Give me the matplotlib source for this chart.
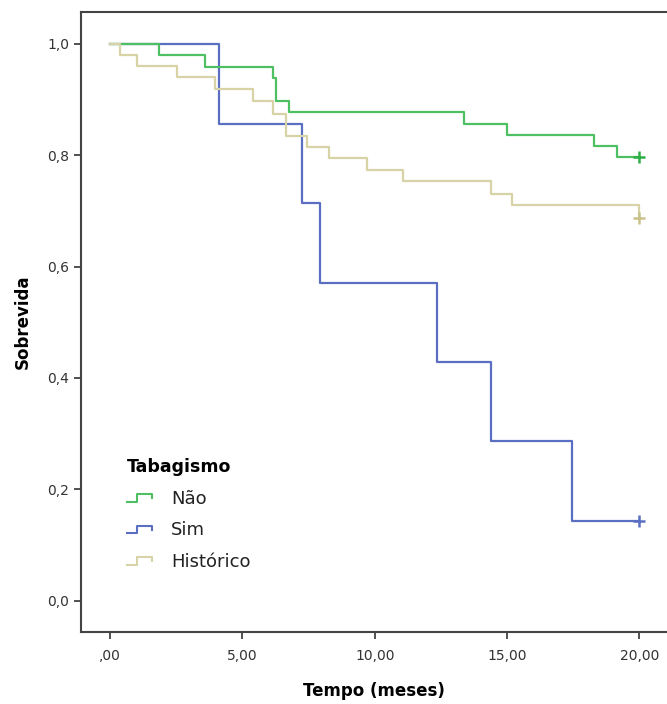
import matplotlib
matplotlib.use("Agg")
import matplotlib.pyplot as plt
from matplotlib.legend_handler import HandlerBase
from matplotlib.lines import Line2D

# Kaplan-Meier steps
nao_t = [0, 1.85, 3.58, 6.14, 6.29, 6.75, 13.36, 15.0, 18.3, 19.15, 20]
nao_s = [1.0, 0.980, 0.959, 0.939, 0.898, 0.878, 0.857, 0.837, 0.816, 0.796, 0.796]

sim_t = [0, 4.13, 7.25, 7.92, 12.35, 14.39, 17.45, 20]
sim_s = [1.0, 0.857, 0.714, 0.571, 0.429, 0.286, 0.143, 0.143]

hist_t = [0, 0.38, 1.03, 2.54, 3.97, 5.39, 6.14, 6.64, 7.43, 8.28, 9.72, 11.08, 14.39, 15.2, 20]
hist_s = [1.0, 0.980, 0.961, 0.940, 0.919, 0.898, 0.874, 0.835, 0.814, 0.795, 0.773, 0.753, 0.731, 0.710, 0.688]

labels = ["Não", "Sim", "Histórico"]
colors = ["#4fc062", "#5b6fc2", "#d8d3a6"]
censor_colors = ["#2fae45", "#5b6fc2", "#c9c28a"]

xticks = [0, 5, 10, 15, 20]
xticklabels = [",00", "5,00", "10,00", "15,00", "20,00"]
yticks = [0, 0.2, 0.4, 0.6, 0.8, 1.0]
yticklabels = ["0,0", "0,2", "0,4", "0,6", "0,8", "1,0"]


class StepHandler(HandlerBase):
    # little step icon like the SPSS legend
    def create_artists(self, legend, orig_handle, xdescent, ydescent,
                       width, height, fontsize, trans):
        w, h = width, height
        xs = [0, 0.35 * w, 0.35 * w, 0.85 * w, 0.85 * w]
        ys = [0.15 * h, 0.15 * h, 0.75 * h, 0.75 * h, 0.45 * h]
        ln = Line2D([x - xdescent for x in xs], [y - ydescent for y in ys],
                    color=orig_handle.get_color(), lw=1.5, transform=trans)
        return [ln]


fig = plt.figure(figsize=(6.67, 7.04), dpi=100)
ax = fig.add_axes([0.1214, 0.1018, 0.8786, 0.8813])

series = [(nao_t, nao_s), (sim_t, sim_s), (hist_t, hist_s)]
zorders = [3, 2, 4]
handles = []
for (t, s), c, cc, z, lab in zip(series, colors, censor_colors, zorders, labels):
    ln, = ax.plot(t, s, drawstyle="steps-post", color=c, lw=1.6, zorder=z, label=lab)
    ax.plot(t[-1], s[-1], marker="+", color=cc, ms=9, mew=1.8, zorder=z + 1)
    handles.append(ln)

ax.set_xlim(-1.095, 21.04)
ax.set_ylim(-0.0568, 1.0575)
ax.set_xticks(xticks)
ax.set_xticklabels(xticklabels)
ax.set_yticks(yticks)
ax.set_yticklabels(yticklabels)
ax.tick_params(direction="out", length=5, width=1.2, labelsize=10, colors="#333333",
               labelcolor="#333333")
ax.tick_params(axis="x", pad=7)
for sp in ["left", "bottom", "top"]:
    ax.spines[sp].set_linewidth(1.5)
    ax.spines[sp].set_color("#444444")
ax.spines["right"].set_visible(False)

ax.set_xlabel("Tempo (meses)", fontsize=12, fontweight="bold", labelpad=14)
ax.set_ylabel("Sobrevida", fontsize=12, fontweight="bold", labelpad=11)

leg = ax.legend(handles=handles, labels=labels, handler_map={Line2D: StepHandler()},
                title="Tabagismo", loc="upper left", bbox_to_anchor=(0.051, 0.307),
                frameon=False, fontsize=13, handlelength=1.6, handletextpad=0.85,
                labelspacing=0.75, alignment="left")
leg.get_title().set_fontweight("bold")
leg.get_title().set_fontsize(12.5)
for txt in leg.get_texts():
    txt.set_color("#222222")

fig.savefig("out.png", dpi=100)
